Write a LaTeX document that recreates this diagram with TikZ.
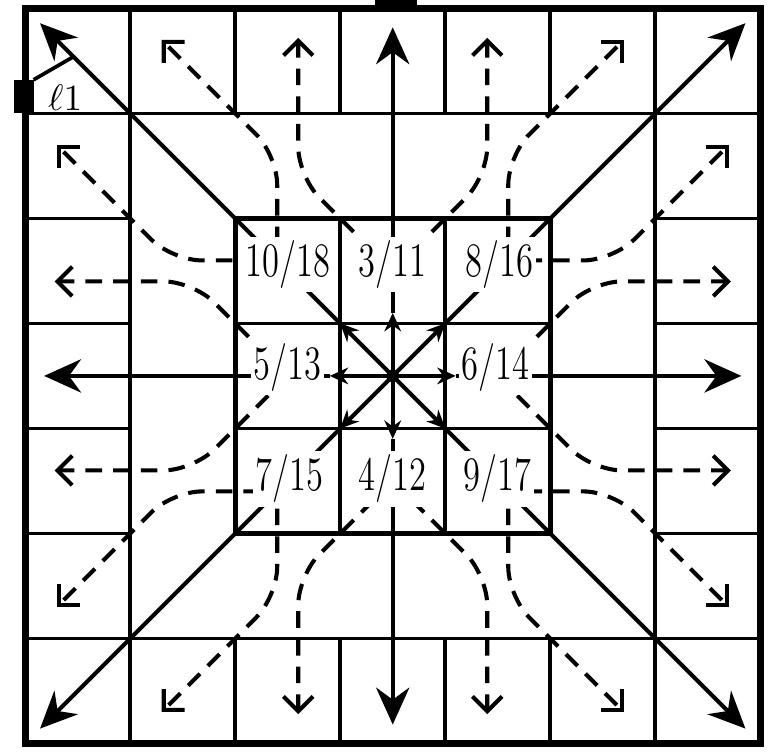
\documentclass[tikz,border=0pt]{standalone}
\usetikzlibrary{arrows.meta}
\tikzset{
  frame/.style={line width=2pt},
  gridline/.style={line width=1pt},
  corearrow/.style={line width=1.1pt, -{Stealth[length=5pt,width=4.5pt]}},
  longarrow/.style={line width=1.1pt, -{Stealth[length=10pt,width=9pt]}},
  dasharrow/.style={line width=1.1pt, dash pattern=on 4.5pt off 3pt,
    rounded corners=8pt, -{Straight Barb[length=4pt,width=8pt]}},
  lab/.style={fill=white, inner sep=1pt, font=\fontsize{13}{13}\selectfont, xscale=0.72},
}
\begin{document}
\begin{tikzpicture}
  \useasboundingbox (-0.24,-0.11) rectangle (7.15,7.08);
  % outer ring of cells
  \foreach \i in {1,...,6} {
    \draw[gridline] (\i,0) -- (\i,1) (\i,6) -- (\i,7);
    \draw[gridline] (0,\i) -- (1,\i) (6,\i) -- (7,\i);
  }
  \draw[gridline] (1,1) rectangle (6,6);
  % core 3x3
  \foreach \i in {3,4} {
    \draw[gridline] (\i,2) -- (\i,5) (2,\i) -- (5,\i);
  }
  \draw[line width=1.4pt] (2,2) rectangle (5,5);
  \draw[frame] (0,0) rectangle (7,7);
  \fill (3.33,7) rectangle (3.73,7.1);
  \fill (-0.11,6.0) rectangle (0.08,6.32);
  \draw[gridline] (0.08,6.32) -- (0.46,6.54);
  \node (ell) at (0.38,6.15) {$\ell 1$};

  \coordinate (hub) at (3.5,3.5);
  % solid arrows, eight directions
  \foreach \ang/\rin/\rout in {0/0.6/3.32, 45/0.71/4.75, 90/0.6/3.32, 135/0.71/4.75,
                               180/0.6/3.32, 225/0.71/4.75, 270/0.6/3.32, 315/0.71/4.75} {
    \path (hub) ++(\ang:\rin) coordinate (p) ++(\ang:{\rout-\rin}) coordinate (q);
    \draw[corearrow] (hub) -- (p);
    \draw[longarrow] (p) -- (q);
  }
  \fill (hub) circle (0.06);

  % dashed arrows, one quarter turned four times
  \foreach \r in {0,90,180,270} {
    \begin{scope}[shift={(hub)}, rotate=\r]
      \draw[dasharrow] (-1,1.1) -- (-2.1,1.1) -- (-3.2,2.2);
      \draw[dasharrow] (-1.1,1) -- (-1.1,2.1) -- (-2.2,3.2);
      \draw[dasharrow] (0,1) -- (-0.9,1.9) -- (-0.9,3.22);
      \draw[dasharrow] (0,1) -- (0.9,1.9) -- (0.9,3.22);
    \end{scope}
  }

  % labels
  \node[lab] (l1018) at (2.5,4.56) {10/18};
  \node[lab] (l311) at (3.5,4.56) {3/11};
  \node[lab] (l816) at (4.52,4.56) {8/16};
  \node[lab] (l513) at (2.5,3.58) {5/13};
  \node[lab] (l614) at (4.48,3.58) {6/14};
  \node[lab] (l715) at (2.52,2.52) {7/15};
  \node[lab] (l412) at (3.5,2.52) {4/12};
  \node[lab] (l917) at (4.5,2.52) {9/17};
\end{tikzpicture}
\end{document}
